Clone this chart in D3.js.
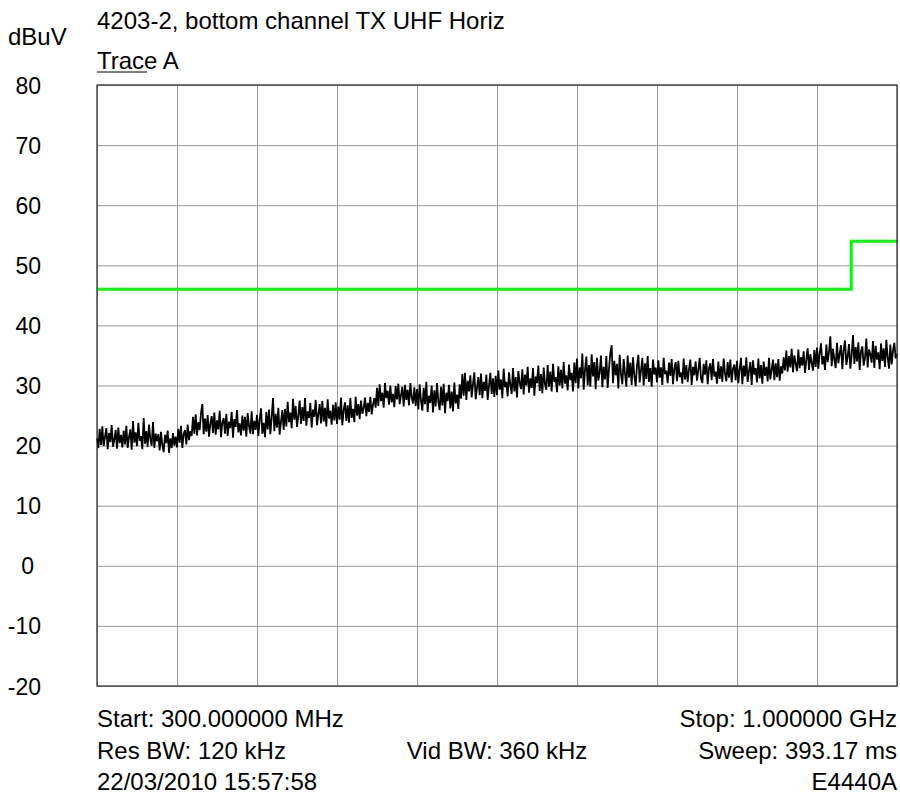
<!DOCTYPE html>
<html>
<head>
<meta charset="utf-8">
<script src="https://cdn.jsdelivr.net/npm/d3@7"></script>
<style>
  html, body { margin: 0; padding: 0; background: #fff; }
  svg { display: block; }
  text { font-family: "Liberation Sans", Arial, sans-serif; fill: #000; }
</style>
</head>
<body>
<svg id="chart" width="900" height="803"></svg>
<script>
// Sweep settings (MHz) and reference level scale (dBuV)
const startMHz = 300;
const stopMHz = 1000;
const yTicks = [80, 70, 60, 50, 40, 30, 20, 10, 0, -10, -20];
const xDivisions = [300, 370, 440, 510, 580, 650, 720, 790, 860, 930, 1000];

// Limit line: frequency break points (MHz) and levels (dBuV)
const limitFreq = [300, 960, 960, 1000];
const limitLevel = [46, 46, 54, 54];

// Trace A, 601 sweep points spread evenly from start to stop (dBuV)
const traceA = [
  21.2, 19.6, 22.8, 20.1, 23.2, 19.9, 21.5, 22.9, 19.4, 22.1,
  20.6, 23.4, 19.8, 21.0, 22.6, 19.5, 23.0, 20.4, 21.8, 19.7,
  22.5, 20.2, 23.3, 19.6, 21.4, 22.7, 19.3, 24.1, 20.5, 22.2,
  19.9, 23.8, 20.8, 21.6, 19.4, 24.6, 20.3, 22.4, 19.8, 23.5,
  21.1, 20.0, 23.9, 19.6, 22.0, 20.7, 21.9, 19.2, 22.3, 20.1,
  18.9, 21.8, 20.4, 22.5, 18.8, 21.2, 19.6, 22.1, 20.0, 21.5,
  19.7, 22.8, 20.5, 23.3, 19.6, 21.9, 22.6, 20.2, 23.5, 20.9,
  22.4, 21.6, 24.8, 22.0, 25.2, 21.7, 23.9, 22.6, 25.4, 26.9,
  21.9, 24.5, 22.3, 25.1, 21.5, 23.6, 24.9, 22.1, 25.5, 21.8,
  24.2, 22.7, 25.8, 21.4, 23.9, 24.6, 22.0, 25.3, 21.6, 24.0,
  22.9, 25.6, 21.3, 24.4, 23.1, 25.9, 22.2, 23.7, 21.7, 25.0,
  22.5, 24.8, 21.5, 25.4, 23.3, 22.0, 25.7, 21.9, 24.1, 22.6,
  25.1, 21.6, 24.3, 26.2, 22.0, 23.8, 21.4, 25.6, 22.7, 26.0,
  21.9, 24.7, 27.9, 22.4, 25.3, 23.0, 26.3, 21.8, 24.0, 25.9,
  22.6, 26.1, 23.2, 27.3, 23.9, 25.5, 22.9, 27.8, 24.3, 26.6,
  23.1, 25.0, 27.5, 23.6, 26.4, 24.1, 27.9, 23.3, 25.7, 24.6,
  27.1, 23.0, 26.0, 24.8, 27.6, 23.4, 25.2, 26.9, 23.7, 27.4,
  24.0, 26.3, 23.2, 27.7, 24.5, 25.8, 23.5, 26.8, 24.2, 27.2,
  23.6, 26.5, 24.3, 28.0, 23.4, 25.9, 27.2, 24.1, 26.7, 23.8,
  27.9, 24.6, 26.1, 23.9, 28.1, 25.0, 26.9, 24.4, 27.5, 25.3,
  26.2, 28.0, 24.9, 27.1, 25.6, 28.1, 25.2, 26.8, 27.9, 26.3,
  29.6, 26.6, 30.2, 27.4, 28.8, 26.3, 30.4, 27.9, 29.1, 26.8,
  30.0, 27.2, 28.6, 26.4, 29.9, 27.7, 30.3, 26.9, 28.4, 29.8,
  26.5, 30.1, 27.6, 29.3, 26.7, 30.4, 28.1, 27.0, 29.7, 26.6,
  29.4, 26.0, 30.2, 27.5, 25.8, 29.6, 26.9, 30.6, 25.6, 28.3,
  27.1, 30.0, 25.5, 29.2, 26.5, 30.4, 27.3, 25.9, 29.8, 26.7,
  30.3, 25.4, 28.8, 27.4, 30.1, 26.2, 29.0, 25.7, 30.5, 27.0,
  28.5, 26.1, 30.2, 27.8, 31.9, 28.3, 32.1, 27.6, 30.8, 29.0,
  31.7, 28.0, 30.3, 32.2, 27.7, 29.6, 31.4, 28.4, 32.0, 27.9,
  30.6, 29.1, 31.8, 27.6, 30.0, 32.1, 28.6, 31.2, 28.1, 31.6,
  28.4, 32.5, 29.3, 31.0, 27.9, 32.8, 29.7, 30.6, 28.2, 32.2,
  30.1, 28.6, 32.9, 29.0, 31.4, 28.0, 32.4, 30.5, 29.4, 32.7,
  28.5, 31.8, 30.0, 33.1, 28.8, 31.2, 29.6, 32.9, 28.3, 31.5,
  30.4, 33.3, 29.1, 31.9, 28.7, 33.0, 30.2, 29.3, 33.4, 29.8,
  32.3, 29.0, 33.6, 30.6, 31.4, 28.9, 33.2, 30.0, 32.6, 29.5,
  33.9, 30.3, 31.7, 29.2, 33.5, 30.9, 32.1, 29.0, 33.8, 30.4,
  34.5, 29.5, 33.0, 31.2, 35.3, 29.3, 32.6, 34.8, 30.0, 33.4,
  29.8, 35.2, 31.5, 33.9, 29.4, 34.6, 30.8, 32.2, 35.0, 29.7,
  33.1, 31.0, 34.9, 29.6, 32.8, 35.4, 36.7, 30.4, 34.1, 31.7,
  33.6, 29.5, 35.1, 31.9, 30.2, 34.4, 32.0, 29.8, 35.0, 31.3,
  33.8, 30.1, 34.7, 31.6, 29.9, 33.3, 35.1, 30.5, 32.5, 34.6,
  30.0, 33.7, 31.1, 34.9, 30.6, 32.9, 29.8, 34.3, 31.8, 33.0,
  30.5, 34.2, 31.3, 33.0, 30.1, 34.6, 31.9, 32.5, 30.4, 33.8,
  31.6, 34.4, 30.2, 32.8, 33.9, 30.7, 34.1, 31.4, 32.2, 30.3,
  34.5, 31.0, 33.4, 30.6, 32.7, 34.3, 30.1, 33.1, 31.7, 34.0,
  30.8, 32.6, 34.6, 31.2, 30.4, 33.6, 31.8, 34.2, 30.2, 32.9,
  33.7, 30.9, 34.4, 31.5, 32.3, 30.3, 34.0, 31.1, 33.2, 30.6,
  34.5, 32.0, 30.7, 33.9, 31.3, 34.3, 30.5, 32.8, 33.5, 30.9,
  34.1, 30.4, 32.7, 34.6, 30.2, 33.3, 31.5, 34.7, 30.6, 32.4,
  33.9, 30.1, 34.2, 31.8, 32.9, 30.5, 34.5, 31.2, 33.4, 30.3,
  34.0, 31.6, 33.1, 30.7, 34.6, 31.0, 32.6, 34.3, 30.9, 33.7,
  31.4, 34.4, 30.8, 33.2, 32.0, 34.7, 32.5, 35.8, 32.3, 34.9,
  33.0, 36.1, 32.2, 35.0, 33.6, 32.4, 36.0, 32.9, 34.7, 33.3,
  35.7, 32.1, 34.3, 36.2, 32.6, 35.2, 33.8, 32.5, 35.9, 33.1,
  36.3, 32.8, 35.4, 37.0, 33.5, 34.9, 32.6, 36.8, 33.9, 35.6,
  38.2, 33.2, 36.1, 34.4, 32.9, 37.1, 33.7, 35.3, 36.7, 32.7,
  35.9, 37.5, 33.4, 34.8, 36.9, 32.8, 35.1, 38.4, 33.6, 36.4,
  34.0, 37.2, 32.6, 35.7, 36.5, 33.3, 34.6, 37.8, 33.0, 36.0,
  35.2, 33.8, 37.4, 32.9, 36.6, 34.3, 35.5, 32.7, 37.0, 34.1,
  36.2, 33.1, 37.6, 34.7, 32.8, 36.8, 33.5, 35.8, 37.1, 34.5,
  35.3
];

// Header and footer annotations
const titleText = "4203-2, bottom channel TX UHF Horiz";
const unitText = "dBuV";
const traceLabel = "Trace A";
const footerLeft = ["Start: 300.000000 MHz", "Res BW: 120 kHz", "22/03/2010 15:57:58"];
const footerMid = ["", "Vid BW: 360 kHz", ""];
const footerRight = ["Stop: 1.000000 GHz", "Sweep: 393.17 ms", "E4440A"];

const svg = d3.select("#chart");
const plot = { left: 97, right: 897, top: 85, bottom: 686 };
const W = plot.right - plot.left;
const H = plot.bottom - plot.top;
const FONT = 24;
const TICK_FONT = 23;
const FONT_FAMILY = '"Liberation Sans", Arial, sans-serif';

const x = d3.scaleLinear().domain([startMHz, stopMHz]).range([plot.left, plot.right]);
const y = d3.scaleLinear().domain([-20, 80]).range([plot.bottom, plot.top]);

// Graticule
const gridColor = "#9a9a9a";
svg.append("g")
  .attr("transform", `translate(${plot.left},0)`)
  .call(d3.axisLeft(y).tickValues(yTicks).tickSize(-W).tickFormat(""))
  .call(g => g.select(".domain").remove())
  .call(g => g.selectAll("line").attr("stroke", gridColor).attr("stroke-width", 1));

svg.append("g")
  .attr("transform", `translate(0,${plot.bottom})`)
  .call(d3.axisBottom(x).tickValues(xDivisions).tickSize(-H).tickFormat(""))
  .call(g => g.select(".domain").remove())
  .call(g => g.selectAll("line").attr("stroke", gridColor).attr("stroke-width", 1));

// Level labels
svg.append("g")
  .attr("transform", "translate(41,0)")
  .call(d3.axisLeft(y).tickValues(yTicks).tickSize(0).tickPadding(0).tickFormat(d => String(d)))
  .call(g => g.select(".domain").remove())
  .call(g => g.selectAll("text")
    .attr("font-family", FONT_FAMILY)
    .attr("font-size", TICK_FONT)
    .attr("fill", "#000")
    .attr("dy", "0.35em")
    .attr("dx", d => d === 0 ? -7 : 0));

// Limit line
const limitPts = limitFreq.map((f, i) => [f, limitLevel[i]]);
svg.append("path")
  .datum(limitPts)
  .attr("fill", "none")
  .attr("stroke", "#00ff00")
  .attr("stroke-width", 3)
  .attr("d", d3.line().x(d => x(d[0])).y(d => y(d[1])));

// Trace A
const step = (stopMHz - startMHz) / (traceA.length - 1);
svg.append("path")
  .datum(traceA)
  .attr("fill", "none")
  .attr("stroke", "#000")
  .attr("stroke-width", 1.8)
  .attr("stroke-linejoin", "miter")
  .attr("d", d3.line().x((d, i) => x(startMHz + i * step)).y(d => y(d)));

// Frame
svg.append("rect")
  .attr("x", plot.left).attr("y", plot.top)
  .attr("width", W).attr("height", H)
  .attr("fill", "none")
  .attr("stroke", "#2a2a2a")
  .attr("stroke-width", 1.2);

function label(str, xPos, yPos, anchor) {
  return svg.append("text")
    .attr("x", xPos).attr("y", yPos)
    .attr("font-size", FONT)
    .attr("text-anchor", anchor || "start")
    .text(str);
}

// Header text
label(titleText, 97, 28.5);
label(unitText, 8, 44.5);
label(traceLabel, 97, 68.5);
svg.append("line")
  .attr("x1", 97).attr("x2", 147).attr("y1", 72).attr("y2", 72)
  .attr("stroke", "#000").attr("stroke-width", 1);

// Footer text
const rowY = [726.5, 758.5, 789.5];
footerLeft.forEach((t, i) => label(t, plot.left, rowY[i]));
footerMid.forEach((t, i) => { if (t) label(t, (plot.left + plot.right) / 2, rowY[i], "middle"); });
footerRight.forEach((t, i) => label(t, plot.right, rowY[i], "end"));
</script>
</body>
</html>
